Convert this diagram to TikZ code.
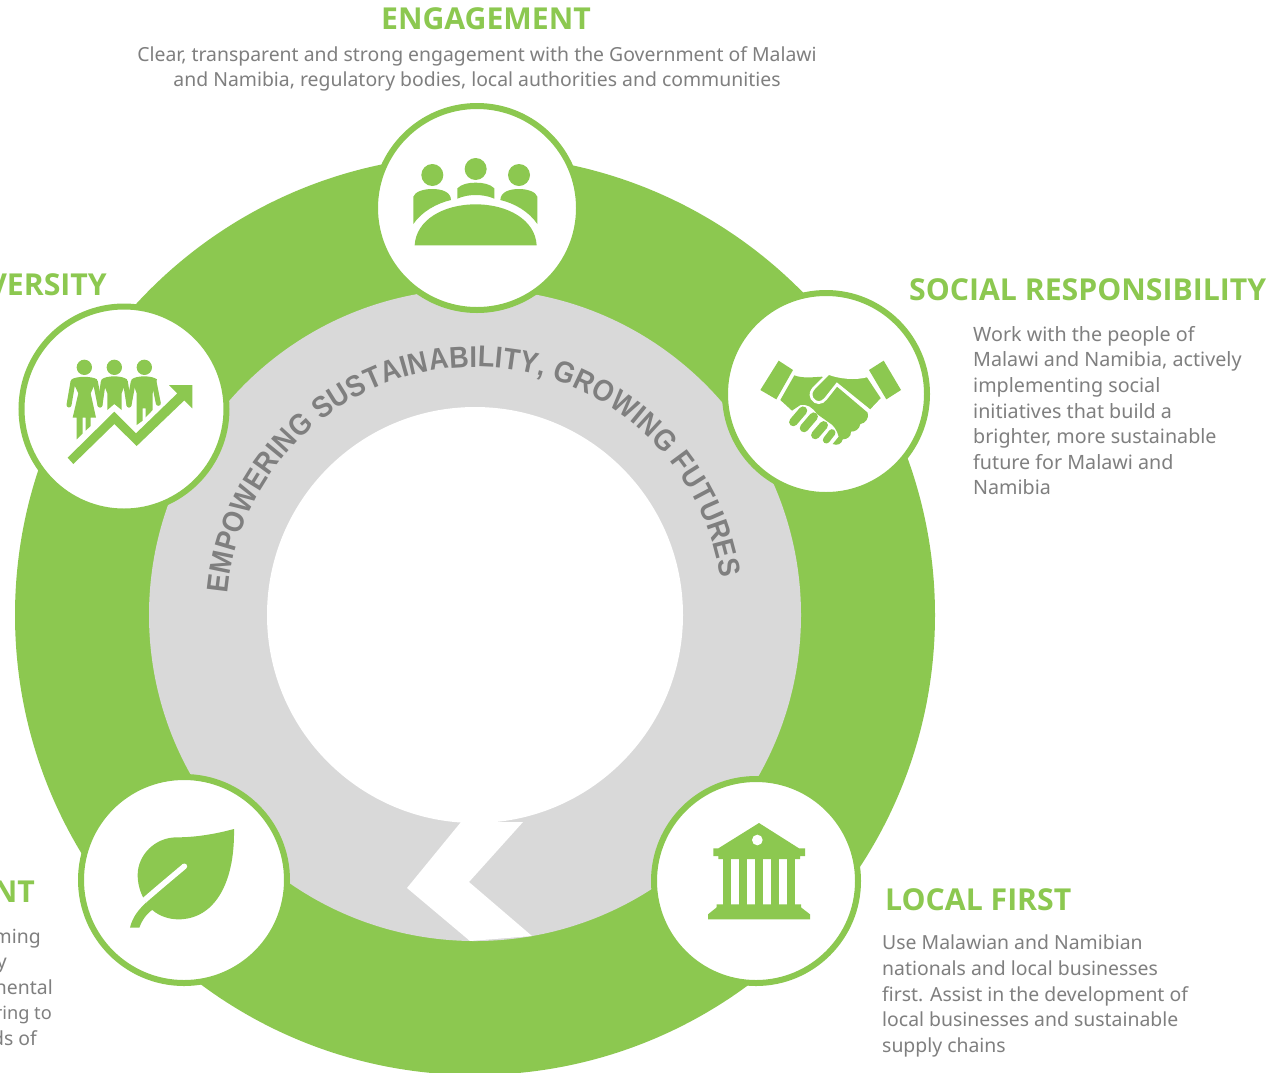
\documentclass[tikz,border=0pt]{standalone}
\usepackage{fontspec}
\setmainfont{Noto Sans}
\newfontfamily\arcfnt[FakeStretch=0.9]{Liberation Sans Bold}
\newfontfamily\headfamily{Open Sans}
\usetikzlibrary{decorations.text}
\definecolor{leafgreen}{HTML}{8CC850}
\definecolor{ringgrey}{HTML}{D9D9D9}
\definecolor{textgrey}{HTML}{7F7F7F}
\newcommand{\bodyfnt}{\fontsize{19.4}{25.6}\selectfont}
\newcommand{\socialfnt}{\fontsize{19.7}{25.6}\selectfont}
\newcommand{\headfnt}{\headfamily\fontsize{30.2}{32}\selectfont\bfseries}
\tikzset{
  badge/.style={circle,draw=leafgreen,fill=white,line width=6pt,minimum size=204pt,inner sep=0pt},
  headtext/.style={text=leafgreen,font=\headfnt,inner sep=0pt},
  bodytext/.style={text=textgrey,font=\bodyfnt,inner sep=0pt,align=left},
  iconfill/.style={fill=leafgreen,draw=none},
  icon/.style={x=0.33333pt,y=-0.33333pt}
}
\begin{document}
\begin{tikzpicture}[x=1pt,y=-1pt]
\useasboundingbox (0,0) rectangle (1271,1072);
\clip (0,0) rectangle (1271,1072);
\fill[white] (0,0) rectangle (1271,1072);
% rings
\coordinate (hub) at (475,615);
\fill[leafgreen] (hub) circle [radius=460];
\fill[ringgrey] (hub) circle [radius=326];
\fill[white] (hub) circle [radius=208];
\fill[white] (461,822) -- (523,822) -- (469,882) -- (532,936) -- (470,941) -- (407,888) -- cycle;
% arc title
\path[decorate,decoration={text along path,text align={fit to path},
  text={|\arcfnt\fontsize{30}{32}\selectfont\color{textgrey}|EMPOWERING SUSTAINABILITY, GROWING FUTURES}}]
  (hub) ++(185:248) arc [start angle=185,end angle=351.5,radius=248];
% badges
\node[badge] (engage) at (477,208) {};
\node[badge,minimum size=205pt] (divers) at (124,409) {};
\node[badge,minimum size=202pt] (social) at (826,394) {};
\node[badge] (local) at (756,881) {};
\node[badge,minimum size=206pt] (enviro) at (184,880) {};
% engagement icon
\begin{scope}[shift={(380,100)},icon]
\fill[iconfill] (157,225) circle [radius=33];
\fill[iconfill] (287,207) circle [radius=33];
\fill[iconfill] (417,225) circle [radius=33];
\fill[iconfill] (104,436) .. controls (108,360) and (190,313) .. (287,313) .. controls (384,313) and (466,360) .. (470,436) -- cycle;
\fill[iconfill] (100,372) -- (100,290) .. controls (105,275) and (130,267) .. (157,267) .. controls (185,267) and (212,275) .. (213,300) .. controls (170,310) and (125,335) .. (100,372) -- cycle;
\fill[iconfill] (472,372) -- (472,290) .. controls (467,275) and (442,267) .. (417,267) .. controls (389,267) and (362,275) .. (361,300) .. controls (404,310) and (447,335) .. (472,372) -- cycle;
\fill[iconfill] (232,296) -- (232,265) .. controls (245,252) and (265,248) .. (287,248) .. controls (309,248) and (330,252) .. (343,265) -- (343,296) .. controls (325,288) and (305,285) .. (287,285) .. controls (269,285) and (250,288) .. (232,296) -- cycle;
\end{scope}
% diversity icon
\begin{scope}[shift={(20,300)},icon]
\fill[iconfill] (193,202) circle [radius=23];
\fill[iconfill] (283,202) circle [radius=23];
\fill[iconfill] (373,202) circle [radius=23];
\draw[leafgreen,line width=5pt,line cap=round] (159,245) -- (147,315);
\draw[leafgreen,line width=5pt,line cap=round] (226,245) -- (240,315);
\draw[leafgreen,line width=5pt,line cap=round] (250,245) -- (240,315);
\draw[leafgreen,line width=5pt,line cap=round] (316,245) -- (327,315);
\draw[leafgreen,line width=5pt,line cap=round] (340,245) -- (327,315);
\draw[leafgreen,line width=5pt,line cap=round] (402,245) -- (415,310);
\fill[iconfill] (155,238) .. controls (170,228) and (215,228) .. (231,238) -- (212,280) -- (228,353) -- (212,353) -- (212,378) -- (197,392) -- (197,353) -- (188,353) -- (188,400) -- (170,418) -- (170,353) -- (158,353) -- (175,280) -- cycle;
\fill[iconfill] (245,238) .. controls (260,226) and (305,226) .. (321,238) -- (305,280) -- (305,330) -- (283,312) -- (262,330) -- (262,280) -- cycle;
\fill[iconfill] (335,238) .. controls (350,226) and (395,226) .. (411,238) -- (398,280) -- (398,330) -- (377,352) -- (377,325) -- (368,325) -- (368,362) -- (350,375) -- (350,280) -- cycle;
\fill[iconfill] (143,473) -- (283,335) -- (348,400) -- (472,280) -- (447,255) -- (517,255) -- (517,325) -- (493,301) -- (350,438) -- (283,372) -- (160,492) -- cycle;
\end{scope}
% handshake icon
\begin{scope}[shift={(722,290)},icon]
\fill[iconfill] (170,212) -- (213,240) -- (163,328) -- (115,300) -- cycle;
\fill[iconfill] (485,212) -- (441,240) -- (493,328) -- (537,300) -- cycle;
\fill[iconfill] (217,256) .. controls (240,265) and (270,262) .. (300,260) -- (345,290) -- (437,368) .. controls (442,385) and (430,400) .. (415,402) .. controls (412,418) and (400,425) .. (387,425) .. controls (388,440) and (375,448) .. (362,448) .. controls (360,462) and (345,468) .. (332,462) -- (350,440) .. controls (345,420) and (335,405) .. (320,397) -- (285,372) .. controls (270,350) and (255,342) .. (235,345) -- (210,362) -- (175,330) -- cycle;
\draw[leafgreen,line width=8.5pt,line cap=round] (214,396) -- (243,362);
\draw[leafgreen,line width=8.5pt,line cap=round] (246,414) -- (275,380);
\draw[leafgreen,line width=8.5pt,line cap=round] (280,435) -- (305,406);
\draw[leafgreen,line width=7pt,line cap=round] (313,450) -- (330,428);
\fill[leafgreen,draw=white,line width=2.8pt] (320,250) .. controls (350,262) and (400,268) .. (437,257) -- (482,325) -- (445,364) -- (345,283) -- (312,325) .. controls (300,342) and (280,342) .. (270,325) .. controls (264,310) and (268,305) .. (275,295) -- cycle;
\end{scope}
% bank icon
\begin{scope}[shift={(650,775)},icon]
\fill[iconfill] (327,144) -- (447,220) -- (465,220) -- (465,243) -- (450,243) -- (450,252) -- (205,252) -- (205,243) -- (190,243) -- (190,220) -- (205,220) -- cycle;
\fill[white] (322,195) circle [radius=16];
\fill[iconfill] (218,250) rectangle (242,392);
\fill[iconfill] (267,250) rectangle (291,392);
\fill[iconfill] (315,250) rectangle (339,392);
\fill[iconfill] (363,250) rectangle (387,392);
\fill[iconfill] (412,250) rectangle (436,392);
\fill[iconfill] (200,388) -- (453,388) -- (453,397) -- (480,418) -- (480,433) -- (174,433) -- (174,418) -- (200,397) -- cycle;
\end{scope}
% leaf icon
\begin{scope}[shift={(0,775)},icon]
\fill[iconfill] (702,162) .. controls (650,176) and (590,187) .. (530,187) .. controls (465,187) and (413,240) .. (413,300) .. controls (413,325) and (420,350) .. (430,368) -- (445,392) -- (457,405) .. controls (480,425) and (510,433) .. (535,433) .. controls (640,433) and (705,330) .. (702,162) -- cycle;
\fill[iconfill] (390,458) .. controls (398,425) and (415,405) .. (438,383) -- (460,402) .. controls (445,412) and (428,430) .. (418,458) -- cycle;
\fill[white] (553,274) circle [radius=8.5];
\draw[white,line width=5.6pt] (553,274) .. controls (520,302) and (480,335) .. (433,376);
\end{scope}
% texts
\node[headtext,anchor=base] (t1) at (486,29) {ENGAGEMENT};
\node[bodytext,align=center,anchor=north] (b1) at (477,46) {Clear, transparent and strong engagement with the Government of Malawi\\and Namibia, regulatory bodies, local authorities and communities};
\node[headtext,anchor=base west] (t2) at (909,300) {SOCIAL RESPONSIBILITY};
\node[bodytext,font=\socialfnt,anchor=north west] (b2) at (973,326) {Work with the people of\\Malawi and Namibia, actively\\implementing social\\initiatives that build a\\brighter, more sustainable\\future for Malawi and\\Namibia};
\node[headtext,anchor=base west] (t3) at (885,910) {LOCAL FIRST};
\node[bodytext,anchor=north west] (b3) at (882,935) {Use Malawian and Namibian\\nationals and local businesses\\first. Assist in the development of\\local businesses and sustainable\\supply chains};
\node[headtext,anchor=base east] (t4) at (107,295) {VERSITY};
\node[headtext,anchor=base east] (t5) at (35,902) {NT};
\node[bodytext,anchor=base east] (l1) at (41,943) {ming};
\node[bodytext,anchor=base east] (l2) at (7,968) {y};
\node[bodytext,anchor=base east] (l3) at (53,994) {nental};
\node[bodytext,font=\fontsize{18.2}{25.6}\selectfont,anchor=base east] (l4) at (52,1019) {ring to};
\node[bodytext,anchor=base east] (l5) at (37,1045) {ds of};
\end{tikzpicture}
\end{document}
